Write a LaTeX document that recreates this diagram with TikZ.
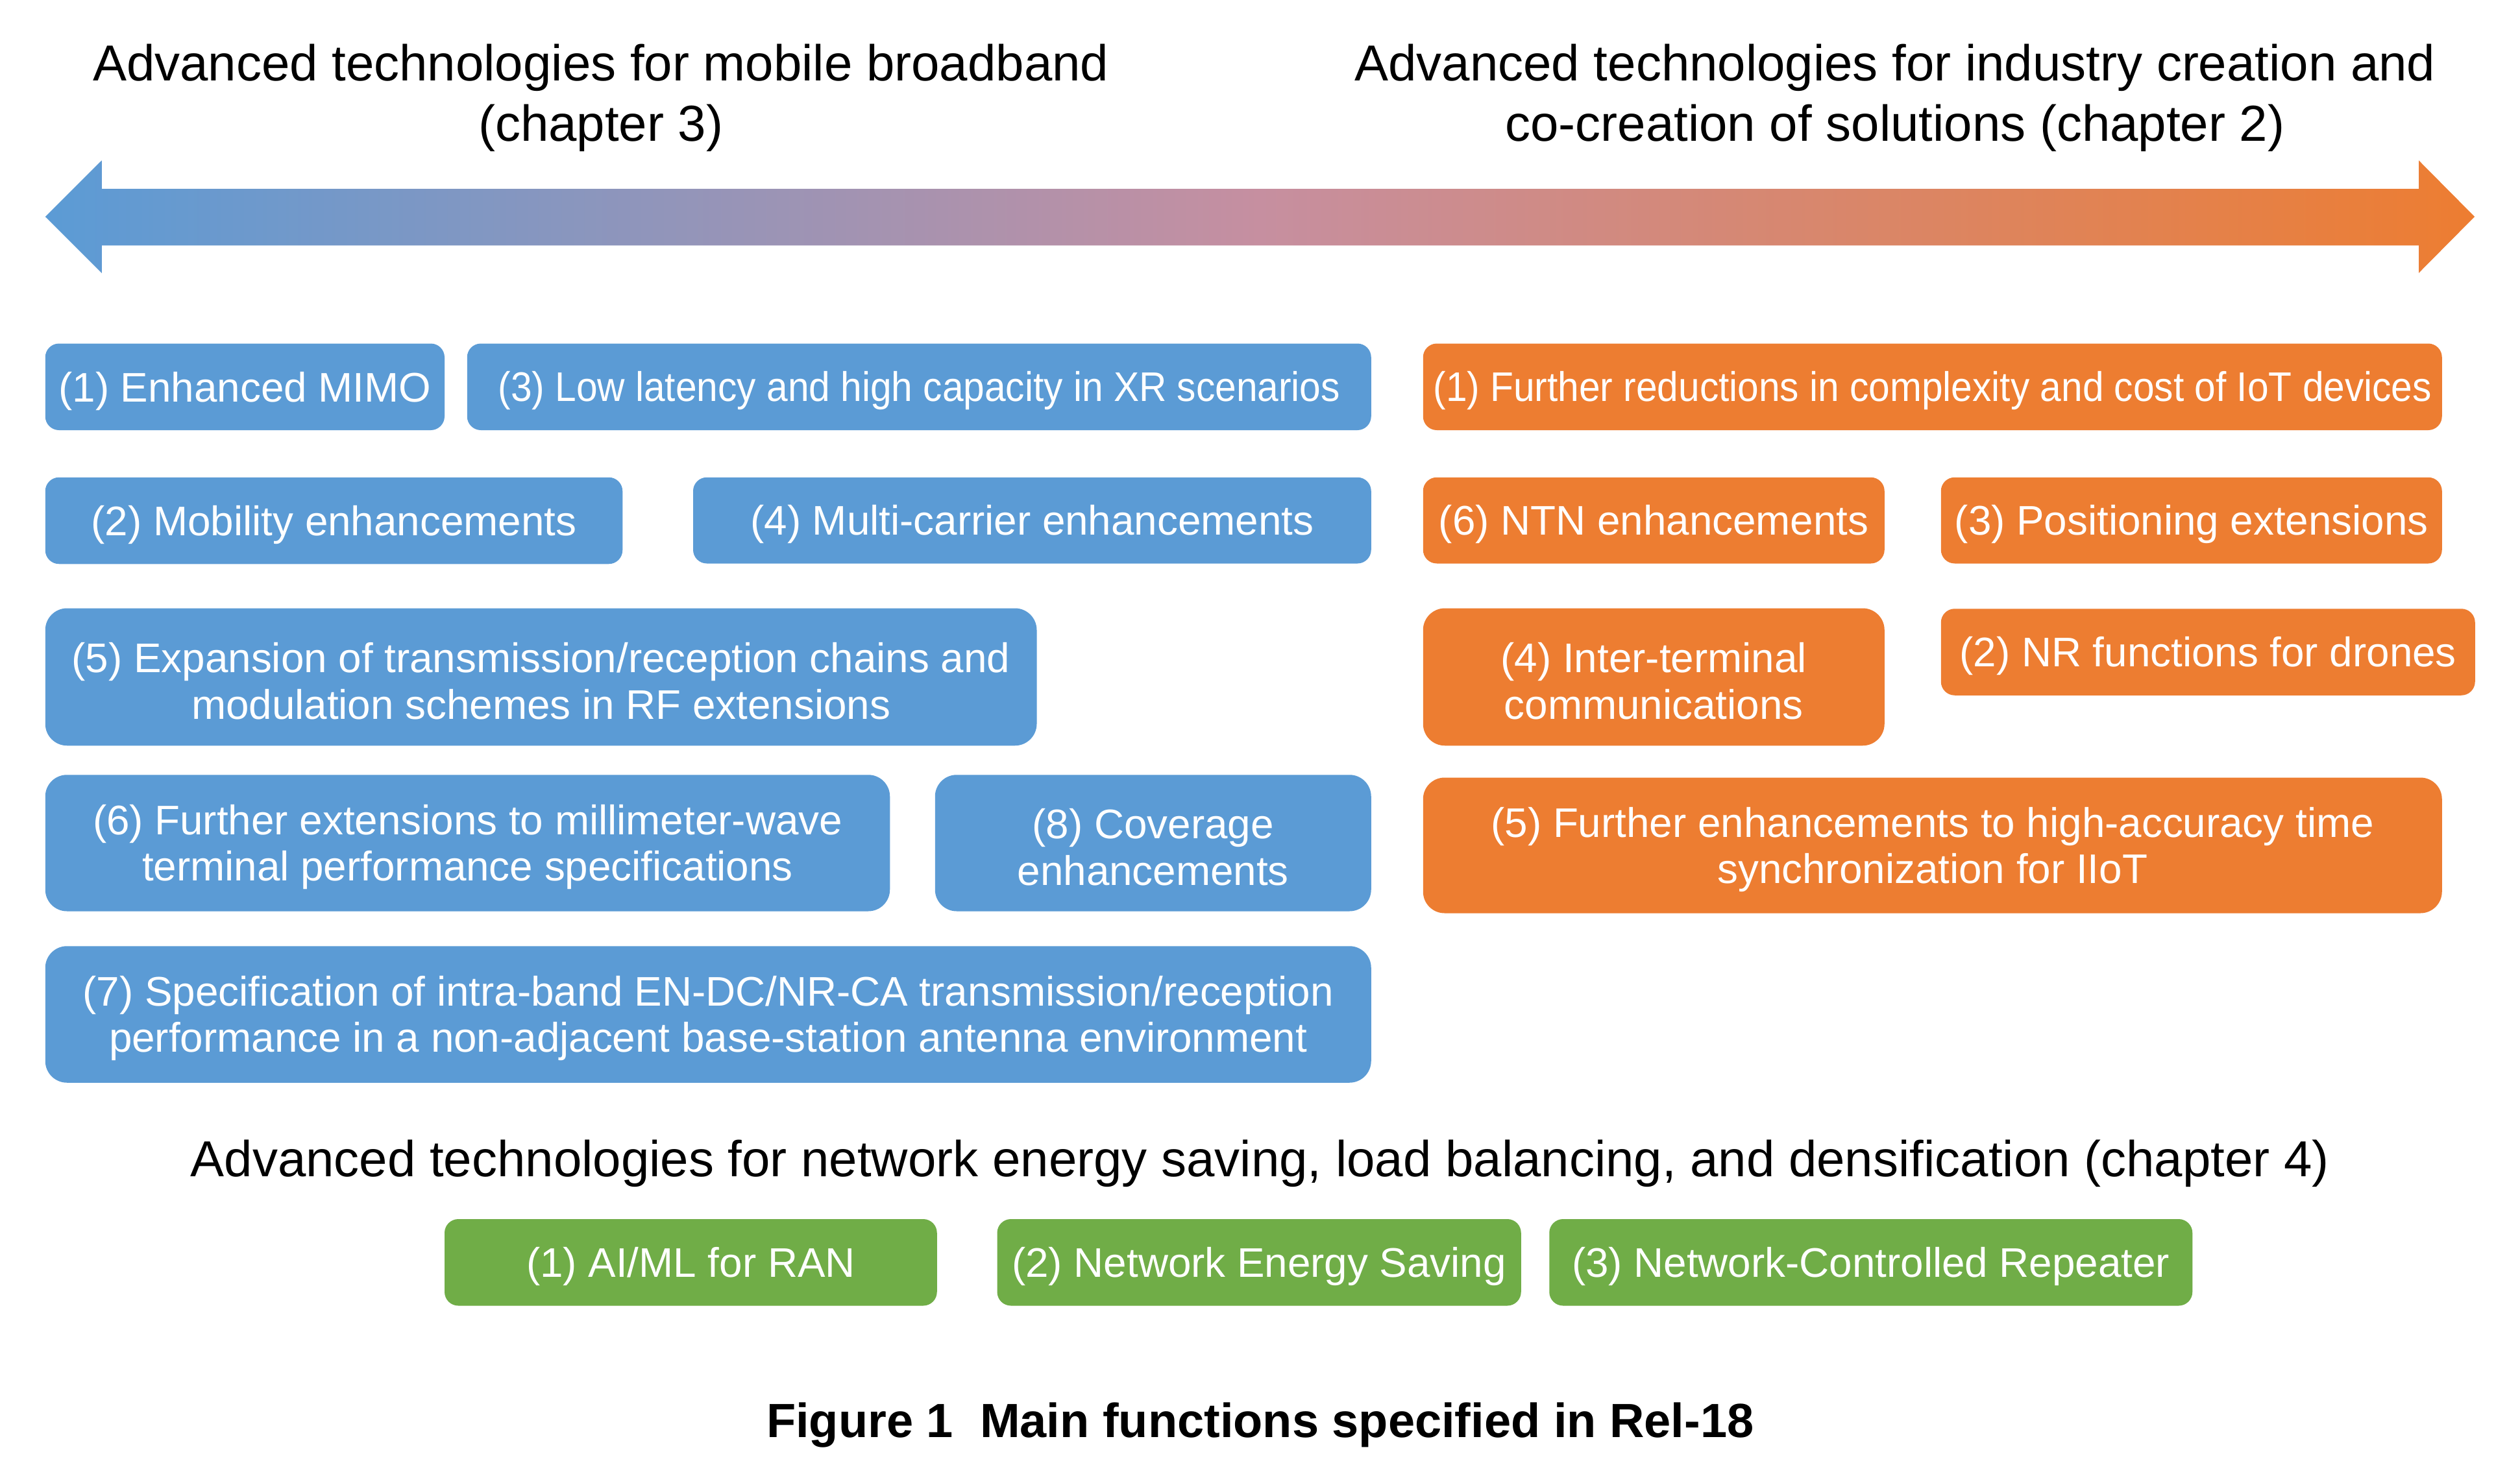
\documentclass[tikz,border=0pt]{standalone}
\usepackage{graphicx}
\usepackage{fontspec}
\setmainfont{Liberation Sans}
\definecolor{cblue}{RGB}{91,155,213}
\definecolor{corange}{RGB}{237,125,49}
\definecolor{cgreen}{RGB}{112,173,71}
\definecolor{cmid}{RGB}{198,143,160}
\tikzset{
  tboxsty/.style={rectangle, inner sep=0pt, outer sep=0pt},
  tboxtext/.style={inner sep=0pt, text=white, align=center,
    font=\fontsize{25.5}{28.5}\selectfont},
  titlesty/.style={inner sep=0pt, align=center, text=black, font=\fontsize{31.2}{37.5}\selectfont},
  capsty/.style={inner sep=0pt, text=black, font=\bfseries\fontsize{29.6}{34}\selectfont},
}
\newcommand\featbox[7]{%
  \pgfmathsetmacro\fbw{#4-#2}%
  \pgfmathsetmacro\fbh{#5-#3}%
  \pgfmathsetmacro\fbr{\fbh/6.3}%
  \node[tboxsty, fill=#6, minimum width=\fbw pt, minimum height=\fbh pt,
        rounded corners=\fbr pt] (#1) at ({(#2+#4)/2},{(#3+#5)/2}) {};
  \node[tboxtext] (#1-t) at ([yshift=-2.5pt]#1.center) {#7};}
\begin{document}
\begin{tikzpicture}[x=1pt,y=-1pt]
\useasboundingbox (0,0) rectangle (1553.2,910);

% titles
\node[titlesty] (tleft) at (370.3,60.3) {Advanced technologies for mobile broadband\\(chapter 3)};
\node[titlesty] (tright) at (1168,60.3) {Advanced technologies for industry creation and\\co-creation of solutions (chapter 2)};

% double arrow
\shade[left color=cblue, right color=corange, middle color=cmid]
  (27.9,133.6) -- (62.7,98.9) -- (62.7,116.4) -- (1490.8,116.4) -- (1490.8,98.9)
  -- (1525.2,133.6) -- (1490.8,168.3) -- (1490.8,151.3) -- (62.7,151.3)
  -- (62.7,168.3) -- cycle;

% blue boxes (chapter 3)
\featbox{b1}{27.9}{211.8}{274}{265.2}{cblue}{(1) Enhanced MIMO}
\featbox{b3}{287.9}{211.8}{845.1}{265.2}{cblue}{\scalebox{0.92}[1]{(3) Low latency and high capacity in XR scenarios}}
\featbox{b2}{27.9}{294.3}{383.7}{347.7}{cblue}{(2) Mobility enhancements}
\featbox{b4}{427.2}{294.3}{845.1}{347.4}{cblue}{(4) Multi-carrier enhancements}
\featbox{b5}{27.9}{375}{639}{459.7}{cblue}{(5) Expansion of transmission/reception chains and\\modulation schemes in RF extensions}
\featbox{b6}{27.9}{477.7}{548.5}{561.8}{cblue}{(6) Further extensions to millimeter-wave\\terminal performance specifications}
\featbox{b8}{576.3}{477.7}{845.1}{561.8}{cblue}{(8) Coverage\\enhancements}
\featbox{b7}{27.9}{583.3}{845.1}{667.5}{cblue}{(7) Specification of intra-band EN-DC/NR-CA transmission/reception\\performance in a non-adjacent base-station antenna environment}

% orange boxes (chapter 2)
\featbox{o1}{877.1}{211.8}{1505.1}{265.2}{corange}{\scalebox{0.92}[1]{(1) Further reductions in complexity and cost of IoT devices}}
\featbox{o6}{877.1}{294.3}{1161.5}{347.4}{corange}{(6) NTN enhancements}
\featbox{o3}{1196.3}{294.3}{1505.1}{347.4}{corange}{(3) Positioning extensions}
\featbox{o4}{877.1}{375}{1161.5}{459.7}{corange}{(4) Inter-terminal\\communications}
\featbox{o2}{1196.3}{375.3}{1525.5}{428.7}{corange}{(2) NR functions for drones}
\featbox{o5}{877.1}{479.4}{1505.1}{563}{corange}{(5) Further enhancements to high-accuracy time\\synchronization for IIoT}

% chapter 4
\node[titlesty, anchor=base] (tbottom) at (776.6,725.5) {Advanced technologies for network energy saving, load balancing, and densification (chapter 4)};
\featbox{g1}{274}{751.6}{577.5}{805}{cgreen}{(1) AI/ML for RAN}
\featbox{g2}{614.6}{751.6}{937.5}{805}{cgreen}{(2) Network Energy Saving}
\featbox{g3}{954.9}{751.6}{1351.3}{805}{cgreen}{(3) Network-Controlled Repeater}

% caption
\node[capsty, anchor=base] (cap) at (776.7,886.3) {Figure 1\ \ Main functions specified in Rel-18};
\end{tikzpicture}
\end{document}
